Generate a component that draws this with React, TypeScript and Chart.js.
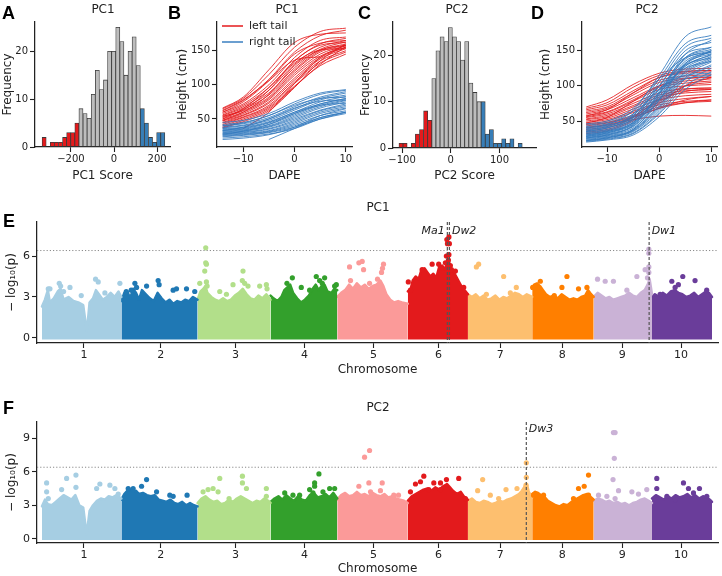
import React, { useEffect, useRef } from "react";
import { Chart, registerables } from "chart.js";
Chart.register(...registerables);

const FONT = "'DejaVu Sans', 'Liberation Sans', sans-serif";
const INK = "#222222";
const RED = "#e41a1c";
const BLUE = "#377eb8";
const GRAY = "#bdbdbd";
const LINE_RED = "rgba(228,26,28,0.85)";
const LINE_BLUE = "rgba(52,122,190,0.85)";

// ---------------- A / C : histograms ----------------
const PC1_BIN_START = -334;
const PC1_BIN_WIDTH = 19;
const PC1_COUNTS = [2, 0, 1, 1, 1, 2, 3, 3, 5, 8, 7, 6, 11, 16, 12, 14, 20, 20, 25, 22, 15, 20, 23, 17, 8, 5, 2, 1, 3, 3];
const PC1_LEFT_TAIL_BINS = 9;
const PC1_RIGHT_TAIL_FROM = 24;

const PC2_BIN_START = -106.5;
const PC2_BIN_WIDTH = 8.44;
const PC2_COUNTS = [1, 1, 0, 1, 3, 4, 8, 6, 15, 21, 24, 23, 26, 24, 23, 19, 23, 14, 12, 10, 10, 3, 4, 1, 1, 2, 1, 2, 0, 1];
const PC2_LEFT_TAIL_BINS = 8;
const PC2_RIGHT_TAIL_FROM = 20;

// ---------------- B / D : growth curves (height, cm, at each DAPE) ----------------
const DAPE = [-14, -10, -5, 0, 5, 10];

const PC1_LEFT_CURVES: (number | null)[][] = [
  [65, 80, 115, 155, 178, 183], [62, 77, 108, 148, 172, 180], [60, 72, 100, 140, 165, 170],
  [58, 70, 96, 135, 160, 168], [56, 68, 92, 130, 155, 165], [55, 66, 88, 125, 152, 163],
  [53, 64, 85, 122, 150, 160], [52, 62, 82, 120, 148, 158], [50, 60, 80, 117, 145, 157],
  [48, 58, 78, 114, 142, 155], [47, 56, 75, 110, 140, 155], [45, 55, 73, 107, 138, 153],
  [44, 53, 70, 104, 135, 150], [42, 52, 68, 102, 132, 148], [40, 50, 66, 98, 128, 145],
  [38, 48, 64, 97, 130, 156], [37, 46, 62, 96, 135, 160], [66, 82, 122, 162, 174, 176],
  [60, 75, 106, 145, 161, 165], [54, 63, 92, 135, 158, 162], [48, 60, 86, 128, 151, 158],
  [null, 36, 60, 102, 140, 158], [63, 78, 106, 136, 141, null], [50, 65, 96, 132, 151, 153],
];
const PC1_RIGHT_CURVES: (number | null)[][] = [
  [45, 48, 58, 75, 88, 93], [42, 45, 55, 72, 86, 92], [40, 43, 52, 68, 82, 90],
  [38, 41, 50, 65, 80, 88], [37, 40, 48, 63, 78, 85], [36, 38, 46, 60, 75, 83],
  [35, 37, 45, 60, 72, 80], [34, 36, 44, 58, 72, 80], [33, 35, 42, 56, 70, 78],
  [32, 34, 40, 54, 68, 77], [31, 33, 39, 52, 66, 75], [30, 32, 38, 50, 63, 72],
  [29, 31, 36, 48, 62, 70], [28, 30, 35, 46, 60, 68], [27, 29, 33, 44, 58, 66],
  [26, 28, 32, 42, 55, 62], [25, 27, 31, 40, 52, 60], [24, 26, 30, 38, 50, 58],
  [22, 24, 28, 36, 50, 60], [20, 22, 27, 38, 55, 65], [null, null, 20, 36, 52, 60],
  [40, 44, 55, 70, 80, 82], [33, 38, 50, 66, 76, 78], [28, 32, 42, 58, 70, 73],
];
const PC2_LEFT_CURVES: (number | null)[][] = [
  [70, 80, 102, 118, 124, 125], [68, 76, 98, 115, 121, 122], [66, 73, 93, 112, 118, 120],
  [64, 70, 90, 108, 114, 116], [62, 68, 87, 105, 111, 113], [60, 66, 83, 100, 107, 110],
  [58, 63, 80, 98, 104, 107], [56, 62, 78, 95, 100, 102], [55, 60, 75, 90, 96, 97],
  [53, 58, 72, 87, 93, 95], [52, 56, 70, 84, 90, 92], [50, 54, 67, 80, 86, 88],
  [48, 52, 64, 76, 82, 85], [46, 50, 62, 73, 78, 80], [45, 48, 58, 70, 76, 78],
  [43, 47, 56, 68, 76, 80], [41, 45, 55, 68, 80, 85], [40, 44, 52, 57, 58, 57],
  [38, 42, 56, 80, 95, 97], [36, 40, 55, 82, 100, 105], [34, 38, 52, 78, 92, 95],
  [32, 36, 50, 75, 100, 112], [57, 66, 90, 112, 120, 122], [47, 55, 78, 100, 110, 112],
];
const PC2_RIGHT_CURVES: (number | null)[][] = [
  [40, 45, 65, 115, 170, 184], [38, 42, 60, 110, 160, 172], [36, 40, 57, 105, 155, 168],
  [35, 38, 54, 100, 145, 155], [34, 37, 52, 95, 140, 152], [33, 36, 50, 92, 138, 150],
  [32, 35, 48, 88, 135, 148], [31, 34, 46, 85, 132, 146], [30, 33, 45, 82, 128, 144],
  [29, 32, 43, 80, 125, 142], [28, 31, 42, 78, 122, 140], [27, 30, 40, 75, 120, 138],
  [26, 29, 38, 72, 118, 136], [25, 28, 37, 70, 115, 134], [24, 27, 36, 68, 112, 130],
  [23, 26, 35, 65, 110, 128], [22, 25, 33, 62, 105, 125], [21, 24, 32, 60, 100, 120],
  [20, 23, 30, 56, 95, 116], [46, 50, 68, 110, 140, 148], [44, 48, 64, 100, 130, 140],
  [42, 46, 60, 95, 125, 135], [39, 43, 56, 90, 128, 145], [37, 41, 52, 85, 130, 150],
  [30, 35, 48, 90, 145, 165], [26, 30, 44, 88, 140, 155], [22, 26, 38, 80, 132, 150],
  [35, 40, 55, 95, 115, 118], [28, 33, 47, 82, 110, 115], [41, 44, 58, 100, 150, 162],
];

// ---------------- E / F : Manhattan plots ----------------
const CHROMS = ["1", "2", "3", "4", "5", "6", "7", "8", "9", "10"];
const CHROM_LEN = [80.9, 77.7, 74.4, 68.0, 71.9, 61.3, 65.5, 62.7, 59.4, 61.2];
// tick positions on the cumulative genome axis (Mb), as placed in the figure
const CHROM_TICKS = [42.8, 121.1, 197.2, 267.7, 337.9, 404.1, 467.2, 530.3, 591.4, 651.5];
const CHROM_COLORS = ["#a6cee3", "#1f78b4", "#b2df8a", "#33a02c", "#fb9a99", "#e31a1c", "#fdbf6f", "#ff7f00", "#cab2d6", "#6a3d9a"];
const THRESHOLD = 6.4;

// upper edge of the dense SNP cloud, [position (Mb), -log10 p] per chromosome
const PC1_CLOUD: number[][][] = [
  [[0, 2.3], [3, 2.8], [6, 3.5], [8, 2.6], [12, 2.9], [16, 3.4], [19, 3.6], [22, 2.8], [27, 3.0], [32, 2.7], [37, 2.6], [42, 2.4], [44.3, 1.2], [45.5, 0.5], [46.7, 1.2], [48.5, 2.6], [52, 2.9], [55, 3.5], [58, 3.2], [62, 2.8], [66, 3.0], [70, 3.3], [74, 3.0], [78, 3.4], [80.9, 3.0]],
  [[0, 2.7], [3, 3.3], [6, 3.4], [9, 2.9], [12, 3.6], [15, 3.3], [18, 2.8], [21, 3.5], [25, 3.2], [29, 2.9], [33, 2.7], [37, 3.3], [41, 2.9], [45, 2.6], [49, 2.8], [53, 2.5], [57, 2.7], [61, 2.6], [65, 2.8], [69, 2.7], [73, 3.0], [77.7, 2.8]],
  [[0, 2.8], [3, 3.4], [6, 3.6], [8, 3.8], [10, 3.3], [14, 3.0], [18, 2.8], [22, 2.7], [26, 2.9], [30, 2.7], [34, 2.8], [38, 3.1], [42, 3.3], [46, 3.6], [50, 3.2], [54, 2.9], [58, 2.8], [62, 3.1], [66, 2.9], [70, 3.2], [74.4, 2.8]],
  [[0, 3.1], [3, 2.9], [7, 2.7], [11, 3.0], [14, 3.5], [17, 3.7], [20, 3.9], [23, 3.3], [27, 2.9], [31, 2.6], [35, 2.8], [39, 3.1], [43, 3.6], [46, 3.9], [49, 3.5], [52, 3.8], [55, 3.9], [58, 3.4], [62, 3.3], [65, 3.6], [68, 3.5]],
  [[0, 3.0], [4, 3.3], [8, 3.5], [12, 3.9], [16, 3.6], [20, 4.0], [24, 3.7], [28, 3.9], [32, 3.6], [36, 3.8], [40, 3.9], [44, 4.2], [47, 3.8], [50, 3.2], [54, 2.8], [58, 2.6], [62, 2.7], [66, 2.6], [71.9, 2.5]],
  [[0, 3.4], [3, 3.6], [5, 4.2], [8, 4.5], [11, 4.3], [14, 5.0], [17, 5.1], [20, 4.8], [23, 4.5], [26, 4.7], [29, 4.4], [32, 5.2], [35, 5.3], [38, 5.0], [40, 5.5], [42, 5.6], [44, 5.0], [47, 4.8], [50, 4.4], [53, 4.0], [56, 3.6], [59, 3.4], [61.3, 3.2]],
  [[0, 3.2], [4, 3.0], [8, 3.2], [12, 2.9], [16, 3.1], [20, 2.8], [24, 2.9], [28, 3.1], [32, 2.8], [36, 3.0], [40, 2.9], [44, 3.1], [48, 3.3], [52, 3.2], [56, 3.0], [60, 3.2], [65.5, 3.0]],
  [[0, 3.6], [2, 3.9], [5, 4.0], [8, 3.8], [11, 3.5], [14, 3.2], [18, 3.0], [22, 3.1], [26, 2.9], [30, 3.2], [34, 3.0], [38, 2.8], [42, 2.9], [46, 2.8], [50, 3.0], [54, 3.1], [57, 3.5], [60, 3.2], [62.7, 3.0]],
  [[0, 3.0], [4, 3.3], [8, 3.1], [12, 2.9], [16, 3.0], [20, 2.8], [24, 2.9], [28, 3.0], [32, 3.1], [36, 3.3], [40, 3.1], [44, 3.0], [48, 3.3], [52, 3.5], [55, 3.9], [57, 4.3], [59.4, 3.2]],
  [[0, 3.0], [3, 3.2], [7, 3.0], [11, 3.3], [15, 3.1], [19, 3.4], [23, 3.5], [27, 3.3], [31, 3.2], [35, 3.0], [39, 3.1], [43, 3.3], [47, 3.0], [51, 3.2], [55, 3.4], [58, 3.3], [61.2, 3.0]],
];
// isolated SNPs above the cloud, [position (Mb), -log10 p]
const PC1_HITS: number[][][] = [
  [[6.4, 3.6], [8.1, 3.6], [17.6, 4.0], [19, 3.8], [22, 3.4], [28.5, 3.7], [40, 3.1], [54.6, 4.3], [57.3, 4.1], [64.1, 3.3], [79.4, 4.0]],
  [[5, 3.4], [10, 3.5], [13.8, 4.0], [15.5, 3.7], [25.7, 3.8], [37.5, 4.2], [38.5, 3.9], [52.8, 3.5], [56.2, 3.6], [66.4, 3.6], [74.8, 3.4]],
  [[2.2, 4.0], [8.3, 6.6], [8.3, 5.5], [9.0, 5.4], [7.3, 4.9], [9.0, 4.1], [9.7, 3.8], [22.6, 3.4], [29.4, 3.2], [36.1, 3.9], [46.3, 4.9], [45.6, 4.2], [48, 4.0], [51.4, 3.8], [63.3, 3.8], [70.1, 3.9], [70.8, 3.6]],
  [[16.7, 4.0], [22.2, 4.4], [31.3, 3.7], [39.8, 3.5], [46.6, 4.5], [50, 4.2], [52.7, 4.0], [55.1, 4.4], [65.3, 3.8], [67, 3.9]],
  [[12.5, 5.2], [13.5, 4.2], [22, 5.5], [25.4, 5.6], [26.8, 5.0], [32.9, 4.0], [41, 4.3], [45.1, 4.8], [46.1, 5.1], [47.1, 5.4]],
  [[39.8, 7.2], [41.9, 7.4], [42.4, 6.9], [40.4, 6.9], [39.3, 6.0], [41.4, 5.7], [38.3, 5.5], [43.4, 5.3], [44.5, 5.0], [41.9, 6.1], [14.6, 5.0], [24.8, 5.4], [31.5, 5.4], [35, 5.1], [0.5, 4.1], [2.7, 3.5], [48.5, 4.9], [57, 3.7]],
  [[8.6, 5.2], [10.9, 5.4], [18.8, 3.2], [36.4, 4.5], [43.2, 3.3], [49.3, 3.7]],
  [[0.5, 3.7], [8.3, 4.15], [22.5, 3.1], [30.3, 3.7], [35.4, 4.5], [47.2, 3.6], [55.8, 3.7]],
  [[3.9, 4.3], [11.7, 4.15], [20.1, 4.15], [33.8, 3.5], [44, 4.5], [52.4, 5.0], [54.8, 4.4], [56.2, 6.5], [56.2, 6.2], [56.2, 5.2], [56.2, 4.8]],
  [[8.3, 3.2], [20.2, 4.15], [23.6, 3.7], [26.9, 3.9], [31.4, 4.5], [43.9, 4.2], [55.8, 3.5]],
];
const PC2_CLOUD: number[][][] = [
  [[0, 2.9], [3, 3.5], [6, 3.1], [10, 3.0], [14, 3.3], [18, 3.6], [22, 3.9], [26, 3.7], [30, 3.5], [34, 3.9], [38, 3.0], [42, 2.8], [44.3, 1.2], [45.5, 0.4], [46.7, 1.2], [48.5, 2.5], [52, 3.0], [56, 3.4], [60, 3.6], [64, 3.5], [68, 3.8], [72, 3.7], [76, 3.9], [80.9, 3.6]],
  [[0, 3.5], [3, 4.0], [6, 4.3], [9, 4.4], [12, 4.2], [15, 4.3], [18, 4.0], [22, 4.1], [26, 3.9], [30, 3.8], [34, 3.9], [38, 3.5], [42, 3.4], [46, 3.3], [50, 3.5], [54, 3.2], [58, 3.1], [62, 3.3], [66, 3.0], [70, 3.2], [74, 3.0], [77.7, 2.9]],
  [[0, 3.2], [4, 3.6], [8, 3.8], [12, 3.5], [16, 3.3], [20, 3.4], [24, 3.1], [28, 3.2], [32, 3.5], [36, 3.3], [40, 3.6], [44, 3.8], [48, 3.6], [52, 3.4], [56, 3.2], [60, 3.4], [64, 3.3], [68, 3.6], [72, 3.4], [74.4, 3.2]],
  [[0, 3.3], [4, 3.6], [8, 3.8], [12, 3.5], [16, 3.9], [20, 3.6], [24, 3.4], [28, 3.8], [32, 3.5], [36, 3.4], [40, 3.9], [44, 4.1], [48, 3.7], [52, 3.8], [56, 4.0], [60, 3.7], [64, 4.1], [68, 3.6]],
  [[0, 3.5], [4, 3.9], [8, 4.1], [12, 3.8], [16, 3.9], [20, 4.2], [24, 3.9], [28, 4.0], [32, 3.8], [36, 4.1], [40, 3.9], [44, 3.8], [48, 4.0], [52, 3.7], [56, 3.8], [60, 3.6], [64, 3.5], [68, 3.4], [71.9, 3.2]],
  [[0, 3.4], [4, 3.8], [8, 4.0], [12, 4.2], [16, 4.4], [20, 4.5], [24, 4.3], [28, 4.6], [32, 4.4], [36, 4.7], [40, 4.9], [43, 4.6], [46, 4.3], [50, 4.0], [54, 4.2], [57, 3.8], [61.3, 3.5]],
  [[0, 3.4], [4, 3.6], [8, 3.3], [12, 3.2], [16, 3.4], [20, 3.3], [24, 3.1], [28, 3.2], [32, 3.4], [36, 3.3], [40, 3.5], [44, 3.6], [48, 3.8], [52, 4.0], [55, 4.3], [58, 4.7], [60, 4.9], [62, 4.2], [65.5, 3.7]],
  [[0, 4.0], [3, 4.2], [6, 4.1], [9, 3.9], [12, 3.8], [16, 3.4], [20, 3.2], [24, 3.0], [28, 2.9], [32, 3.1], [36, 3.0], [40, 3.3], [44, 3.5], [48, 3.7], [52, 3.9], [56, 4.0], [59, 3.8], [62.7, 3.5]],
  [[0, 3.4], [4, 3.6], [8, 3.5], [12, 3.3], [16, 3.4], [20, 3.2], [24, 3.3], [28, 3.1], [32, 3.2], [36, 3.0], [40, 3.2], [44, 3.3], [48, 3.5], [52, 3.6], [56, 3.4], [59.4, 3.2]],
  [[0, 3.6], [4, 3.9], [8, 3.7], [12, 3.5], [16, 3.8], [20, 3.6], [24, 3.9], [28, 3.7], [32, 3.8], [36, 4.0], [40, 3.7], [44, 3.9], [48, 3.6], [52, 3.8], [56, 3.7], [59, 3.5], [61.2, 3.3]],
];
const PC2_HITS: number[][][] = [
  [[4.7, 5.0], [4.7, 4.2], [6.4, 3.6], [20, 4.4], [25.1, 5.4], [34.6, 5.7], [34.6, 4.6], [55.7, 4.5], [59, 4.9], [69.2, 4.8], [74.3, 4.5], [77.7, 4.0]],
  [[7, 4.5], [12, 4.5], [17.1, 3.9], [20.6, 4.7], [25.7, 5.3], [35.9, 4.2], [49.4, 3.9], [52.8, 3.8], [67, 3.9]],
  [[5.6, 4.2], [10.7, 4.4], [15.8, 4.5], [20.9, 4.2], [22.6, 5.4], [32.1, 3.6], [45.7, 5.6], [45.7, 5.0], [49.8, 4.5], [70.1, 4.5], [70.1, 3.8]],
  [[14.4, 4.1], [22.8, 3.9], [29.6, 3.9], [39.8, 4.4], [43.2, 4.1], [44.9, 5.0], [44.9, 4.7], [49.3, 5.8], [53.4, 4.2], [60.2, 4.5], [65.3, 4.5]],
  [[22, 4.7], [27.8, 7.3], [32.9, 7.9], [32.2, 5.0], [33.9, 4.2], [44, 4.3], [45.8, 5.0], [57.6, 3.9], [62.4, 3.9]],
  [[2.7, 4.2], [7.8, 4.9], [12.9, 5.1], [16.3, 5.6], [21.4, 4.4], [26.5, 5.0], [33.3, 5.0], [33.3, 4.4], [39.4, 5.3], [51.9, 5.4], [58.7, 3.6]],
  [[9.9, 4.3], [15, 5.3], [22.8, 3.9], [31.3, 3.6], [38.8, 4.4], [50, 4.5], [59.5, 6.8], [59.5, 5.5], [59.2, 4.8]],
  [[1.4, 3.9], [11.6, 3.9], [42.1, 3.6], [47.2, 4.5], [53, 4.7], [57.4, 5.7], [57.4, 3.9]],
  [[4.9, 3.9], [13.4, 3.8], [19.7, 5.3], [20.1, 9.5], [21.8, 9.5], [21, 7.2], [21.8, 3.6], [25.3, 4.3], [38.9, 4.2], [45.6, 4.0], [54.1, 4.4]],
  [[4.9, 5.4], [4.9, 4.5], [15.2, 3.8], [23.6, 3.5], [32.1, 5.0], [37.2, 4.5], [42.3, 4.1], [48.4, 4.5], [55.9, 3.8]],
];
// candidate genes: chromosome, position (Mb), name
const PC1_GENE_CHROM = [6, 6, 9];
const PC1_GENE_POS = [40.3, 42.4, 56.5];
const PC1_GENE_NAME = ["Ma1", "Dw2", "Dw1"];
const PC2_GENE_CHROM = [7];
const PC2_GENE_POS = [59.5];
const PC2_GENE_NAME = ["Dw3"];

// ---------------- helpers ----------------
const CHROM_START = CHROM_LEN.map((_, i) => CHROM_LEN.slice(0, i).reduce((a, b) => a + b, 0));
const GENOME_END = CHROM_LEN.reduce((a, b) => a + b, 0);

const fmt = (v: number) => (v < 0 ? "\u2212" + Math.abs(v) : String(v));

const decoPlugin = {
  id: "deco",
  afterDatasetsDraw(chart: any, _a: any, opts: any) {
    const { ctx, chartArea } = chart;
    const xs = chart.scales.x;
    const ys = chart.scales.y;
    ctx.save();
    (opts.hlines || []).forEach((h: any) => {
      const y = ys.getPixelForValue(h.value);
      ctx.beginPath();
      ctx.setLineDash(h.dash);
      ctx.strokeStyle = h.color;
      ctx.lineWidth = h.width;
      ctx.moveTo(chartArea.left, y);
      ctx.lineTo(chartArea.right, y);
      ctx.stroke();
    });
    (opts.vlines || []).forEach((v: any) => {
      const x = xs.getPixelForValue(v.value);
      ctx.beginPath();
      ctx.setLineDash(v.dash);
      ctx.strokeStyle = v.color;
      ctx.lineWidth = v.width;
      ctx.moveTo(x, chartArea.top);
      ctx.lineTo(x, chartArea.bottom);
      ctx.stroke();
    });
    ctx.setLineDash([]);
    ctx.fillStyle = INK;
    ctx.textBaseline = "middle";
    (opts.labels || []).forEach((l: any) => {
      ctx.font = "italic 11px " + FONT;
      ctx.textAlign = l.align;
      ctx.fillText(l.text, xs.getPixelForValue(l.value) + l.dx, l.y);
    });
    if (opts.title) {
      ctx.font = "12px " + FONT;
      ctx.textAlign = "center";
      ctx.fillStyle = INK;
      ctx.fillText(opts.title.text, opts.title.x, opts.title.y);
    }
    if (opts.legend) {
      const lg = opts.legend;
      lg.items.forEach((it: any) => {
        ctx.beginPath();
        ctx.strokeStyle = it.color;
        ctx.lineWidth = 1.5;
        ctx.moveTo(lg.x0, it.y);
        ctx.lineTo(lg.x1, it.y);
        ctx.stroke();
        ctx.font = "11px " + FONT;
        ctx.textAlign = "left";
        ctx.fillStyle = INK;
        ctx.fillText(it.text, lg.tx, it.y);
      });
    }
    ctx.restore();
  },
};

function xAxis(o: { min: number; max: number; ticks: number[]; labels?: string[]; title: string; height: number; titlePad: number; size: number }) {
  return {
    type: "linear",
    min: o.min,
    max: o.max,
    offset: false,
    afterBuildTicks: (s: any) => {
      s.ticks = o.ticks.map((v) => ({ value: v }));
    },
    afterFit: (s: any) => {
      s.height = o.height;
    },
    grid: { display: true, offset: false, drawOnChartArea: false, drawTicks: true, tickLength: 5, tickWidth: 1.1, tickColor: INK, color: INK },
    border: { display: true, color: INK, width: 1.25 },
    ticks: {
      autoSkip: false,
      maxRotation: 0,
      padding: 1,
      color: INK,
      font: { family: FONT, size: o.size },
      callback: (v: any, i: number) => (o.labels ? o.labels[i] : fmt(v)),
    },
    title: { display: true, text: o.title, color: INK, font: { family: FONT, size: 12 }, padding: { top: 0, bottom: o.titlePad } },
  };
}

function yAxis(o: { min: number; max: number; ticks: number[]; title: string; width: number; titlePad: number; size: number }) {
  return {
    type: "linear",
    min: o.min,
    max: o.max,
    afterBuildTicks: (s: any) => {
      s.ticks = o.ticks.map((v) => ({ value: v }));
    },
    afterFit: (s: any) => {
      s.width = o.width;
    },
    grid: { display: true, drawOnChartArea: false, drawTicks: true, tickLength: 5, tickWidth: 1.1, tickColor: INK, color: INK },
    border: { display: true, color: INK, width: 1.25 },
    ticks: { padding: 2, color: INK, font: { family: FONT, size: o.size }, callback: (v: any) => fmt(v) },
    title: { display: true, text: o.title, color: INK, font: { family: FONT, size: 12 }, padding: { top: o.titlePad, bottom: 0 } },
  };
}

function baseOptions(padTop: number, padRight: number, deco: any, scales: any) {
  return {
    responsive: false,
    animation: false,
    events: [],
    layout: { padding: { left: 0, top: padTop, right: padRight, bottom: 0 } },
    plugins: { legend: { display: false }, tooltip: { enabled: false }, title: { display: false }, deco },
    scales,
  };
}

function histConfig(start: number, width: number, counts: number[], leftN: number, rightFrom: number, xo: any, yo: any, padTop: number, padRight: number, title: any) {
  return {
    type: "bar",
    data: {
      datasets: [
        {
          data: counts.map((c, i) => ({ x: start + width * (i + 0.5), y: c })),
          backgroundColor: counts.map((_, i) => (i < leftN ? RED : i >= rightFrom ? BLUE : GRAY)),
          borderColor: "#3a3a3a",
          borderWidth: 0.8,
          borderSkipped: false,
          barPercentage: 1,
          categoryPercentage: 1,
          grouped: false,
        },
      ],
    },
    options: baseOptions(padTop, padRight, { title }, { x: xAxis(xo), y: yAxis(yo) }),
    plugins: [decoPlugin],
  };
}

function curveSets(curves: (number | null)[][], color: string, order: number) {
  return curves.map((c) => ({
    data: DAPE.map((x, i) => ({ x, y: c[i] })).filter((p) => p.y !== null),
    borderColor: color,
    borderWidth: 1,
    pointRadius: 0,
    fill: false,
    cubicInterpolationMode: "monotone",
    order,
  }));
}

function curveConfig(left: (number | null)[][], right: (number | null)[][], xo: any, yo: any, padTop: number, padRight: number, deco: any) {
  return {
    type: "line",
    data: { datasets: [...curveSets(left, LINE_RED, 2), ...curveSets(right, LINE_BLUE, 1)] },
    options: baseOptions(padTop, padRight, deco, { x: xAxis(xo), y: yAxis(yo) }),
    plugins: [decoPlugin],
  };
}

function manhattanConfig(cloud: number[][][], hits: number[][][], gChrom: number[], gPos: number[], gName: string[], yMin: number, yMax: number, yTicks: number[], padTop: number, xHeight: number, xTitlePad: number, title: any, labelY: number, leftLabel: string[]) {
  const datasets: any[] = [];
  CHROMS.forEach((_, i) => {
    datasets.push({
      type: "scatter",
      data: hits[i].map(([p, v]) => ({ x: CHROM_START[i] + p, y: v })),
      backgroundColor: CHROM_COLORS[i],
      borderWidth: 0,
      pointRadius: 2.6,
      order: 1,
    });
    datasets.push({
      type: "line",
      data: cloud[i].map(([p, v]) => ({ x: CHROM_START[i] + p, y: v })),
      backgroundColor: CHROM_COLORS[i],
      borderColor: CHROM_COLORS[i],
      borderWidth: 2.5,
      borderJoinStyle: "round",
      borderCapStyle: "round",
      pointRadius: 0,
      tension: 0,
      fill: { value: -0.12 },
      order: 2,
    });
  });
  const genePos = gChrom.map((c, i) => CHROM_START[c - 1] + gPos[i]);
  return {
    type: "scatter",
    data: { datasets },
    options: baseOptions(padTop, 3, {
      title,
      hlines: [{ value: THRESHOLD, color: "#8a8a8a", dash: [1.2, 2], width: 1 }],
      vlines: genePos.map((p) => ({ value: p, color: "#555555", dash: [3, 2], width: 1.2 })),
      labels: genePos.map((p, i) => {
        const left = leftLabel.includes(gName[i]);
        return { value: p, dx: left ? -2.5 : 2.5, y: labelY, text: gName[i], align: left ? "right" : "left" };
      }),
    }, {
      x: xAxis({ min: -5.1, max: GENOME_END + 6.1, ticks: CHROM_TICKS, labels: CHROMS, title: "Chromosome", height: xHeight, titlePad: xTitlePad, size: 11 }),
      y: yAxis({ min: yMin, max: yMax, ticks: yTicks, title: "\u2212 log\u2081\u2080(p)", width: 37, titlePad: 4.8, size: 11 }),
    }),
    plugins: [decoPlugin],
  };
}

function Panel({ left, top, width, height, make }: { left: number; top: number; width: number; height: number; make: () => any }) {
  const ref = useRef<HTMLCanvasElement>(null);
  useEffect(() => {
    const chart = new Chart(ref.current as HTMLCanvasElement, make());
    return () => chart.destroy();
  }, []);
  return <canvas ref={ref} width={width} height={height} style={{ position: "absolute", left, top, width, height }} />;
}

const letterStyle = (left: number, top: number): React.CSSProperties => ({
  position: "absolute",
  left,
  top,
  fontFamily: "'Liberation Sans', Arial, sans-serif",
  fontWeight: "bold",
  fontSize: 18,
  lineHeight: "18px",
  color: "#000",
});

export default function App() {
  return (
    <div style={{ position: "absolute", left: 0, top: 0, width: 722, height: 576, background: "#fff", overflow: "hidden" }}>
      <Panel left={0} top={0} width={176} height={190} make={() =>
        histConfig(PC1_BIN_START, PC1_BIN_WIDTH, PC1_COUNTS, PC1_LEFT_TAIL_BINS, PC1_RIGHT_TAIL_FROM,
          { min: -367, max: 260, ticks: [-200, 0, 200], title: "PC1 Score", height: 43, titlePad: 6.8, size: 10 },
          { min: 0, max: 26.1, ticks: [0, 10, 20], title: "Frequency", width: 35, titlePad: 0.5, size: 10 },
          22, 6, { text: "PC1", x: 103, y: 10 })} />
      <Panel left={175} top={0} width={180} height={190} make={() =>
        curveConfig(PC1_LEFT_CURVES, PC1_RIGHT_CURVES,
          { min: -15.1, max: 11.2, ticks: [-10, 0, 10], title: "DAPE", height: 43, titlePad: 6.8, size: 10 },
          { min: 9, max: 192, ticks: [50, 100, 150], title: "Height (cm)", width: 42, titlePad: 0.3, size: 10 },
          22, 3, {
            title: { text: "PC1", x: 112, y: 10 },
            legend: { x0: 47, x1: 68, tx: 74, items: [{ y: 26, color: RED, text: "left tail" }, { y: 42, color: "#3a7fc0", text: "right tail" }] },
          })} />
      <Panel left={355} top={0} width={185} height={190} make={() =>
        histConfig(PC2_BIN_START, PC2_BIN_WIDTH, PC2_COUNTS, PC2_LEFT_TAIL_BINS, PC2_RIGHT_TAIL_FROM,
          { min: -118.7, max: 175, ticks: [-100, 0, 100], title: "PC2 Score", height: 42, titlePad: 6.8, size: 10 },
          { min: 0, max: 27.2, ticks: [0, 10, 20], title: "Frequency", width: 38, titlePad: 3.8, size: 10 },
          22, 4, { text: "PC2", x: 102, y: 10 })} />
      <Panel left={535} top={0} width={187} height={190} make={() =>
        curveConfig(PC2_LEFT_CURVES, PC2_RIGHT_CURVES,
          { min: -14.8, max: 11.1, ticks: [-10, 0, 10], title: "DAPE", height: 43, titlePad: 6.8, size: 10 },
          { min: 13, max: 191, ticks: [50, 100, 150], title: "Height (cm)", width: 47, titlePad: 4.1, size: 10 },
          22, 5, { title: { text: "PC2", x: 112, y: 10 } })} />
      <Panel left={0} top={200} width={722} height={180} make={() =>
        manhattanConfig(PC1_CLOUD, PC1_HITS, PC1_GENE_CHROM, PC1_GENE_POS, PC1_GENE_NAME, -0.37, 8.49, [0, 3, 6], 22, 37, 2.8,
          { text: "PC1", x: 378, y: 8 }, 31, ["Ma1"])} />
      <Panel left={0} top={380} width={722} height={196} make={() =>
        manhattanConfig(PC2_CLOUD, PC2_HITS, PC2_GENE_CHROM, PC2_GENE_POS, PC2_GENE_NAME, -0.38, 10.45, [0, 3, 6, 9], 42, 33, 0,
          { text: "PC2", x: 378, y: 28 }, 49, [])} />
      <div style={letterStyle(2, 4)}>A</div>
      <div style={letterStyle(168, 4)}>B</div>
      <div style={letterStyle(358, 4)}>C</div>
      <div style={letterStyle(531, 4)}>D</div>
      <div style={letterStyle(3, 212)}>E</div>
      <div style={letterStyle(3, 399)}>F</div>
    </div>
  );
}
